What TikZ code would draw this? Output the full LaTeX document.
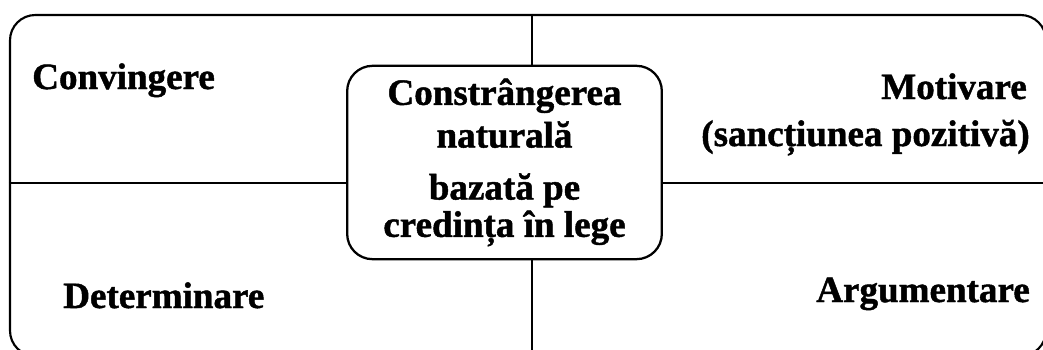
\documentclass[tikz,border=0pt]{standalone}
\usepackage{fontspec}
\setmainfont{Liberation Serif}[BoldFeatures={FakeBold=1.2}]
\usepackage{tikz}
\usetikzlibrary{positioning,calc}
\definecolor{ink}{HTML}{000000}
\tikzset{
  framebox/.style={draw=ink,line width=1.6pt,rounded corners=19pt,
                   minimum width=777pt,minimum height=255.75pt,inner sep=0pt},
  centerbox/.style={draw=ink,fill=white,line width=1.7pt,rounded corners=19pt,
                    minimum width=236pt,minimum height=145pt,inner sep=0pt,
                    align=center,font=\bfseries\fontsize{27.8}{28}\selectfont},
  quadlabel/.style={inner sep=0pt,font=\bfseries\fontsize{27.8}{28}\selectfont},
  divider/.style={draw=ink,line width=1.8pt}
}
\begin{document}
\begin{tikzpicture}[x=0.75pt,y=-0.75pt]
  \useasboundingbox (0,0) rectangle (1043,350);
  % outer frame, cut off at the right and bottom
  \node[framebox] (frame) at (528,185.5) {};
  \coordinate (vx) at (532,183);
  % the two dividing lines
  \draw[divider] (frame.north -| vx) -- (frame.south -| vx);
  \draw[divider] (frame.west |- vx) -- (frame.east |- vx);
  % central box
  \node[centerbox] (core) at (504.5,162.5)
    {Constrângerea\\[4pt]naturală\\[11pt]bazată pe\\credința în lege};
  % the four quadrants
  \node[quadlabel,anchor=base west] (conv) at (32,89) {Convingere};
  \node[quadlabel,anchor=base east] (motiv) at (1027,99) {Motivare};
  \node[quadlabel,anchor=base east] (sanct) at (1030,146) {(sancțiunea pozitivă)};
  \node[quadlabel,anchor=base west] (determ) at (63,308) {Determinare};
  \node[quadlabel,anchor=base east] (argum) at (1030,302) {Argumentare};
\end{tikzpicture}
\end{document}
